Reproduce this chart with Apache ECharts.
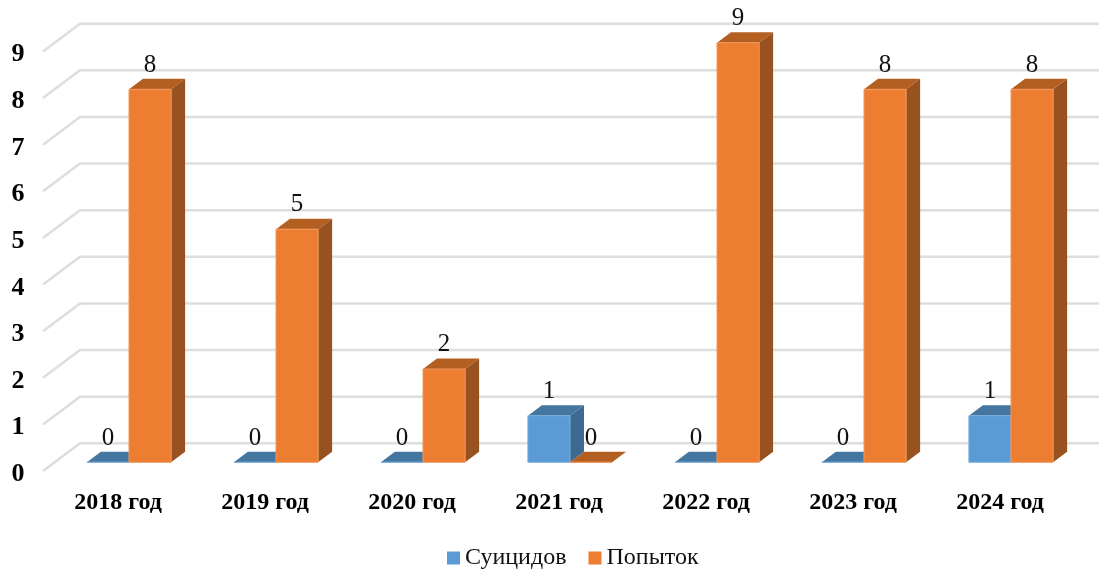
<!DOCTYPE html>
<html>
<head>
<meta charset="utf-8">
<title>Суициды и попытки</title>
<style>
  html, body { margin: 0; padding: 0; background: #fff; }
  #chart { width: 1099px; height: 571px; }
</style>
<script src="https://cdn.jsdelivr.net/npm/echarts@6/dist/echarts.min.js"></script>
</head>
<body>
<div id="chart"></div>
<script>
const categories = ["2018 год", "2019 год", "2020 год", "2021 год", "2022 год", "2023 год", "2024 год"];
const suicides = [0, 0, 0, 1, 0, 0, 1];
const attempts = [8, 5, 2, 0, 9, 8, 8];
const yTicks = [0, 1, 2, 3, 4, 5, 6, 7, 8, 9];

const FONT = "'Liberation Serif', 'Times New Roman', serif";
const DEPTH_X = 14;
const DEPTH_Y = 10.5;

const chart = echarts.init(document.getElementById("chart"));

// back wall lines with the little diagonal at the left
const renderWall = (params, api) => {
  const y = api.coord([0, api.value(1)])[1];
  const cs = params.coordSys;
  return {
    type: "polyline",
    silent: true,
    shape: {
      points: [
        [cs.x - 12.5, y + 8.7],
        [cs.x + 24.5, y - 19],
        [cs.x + cs.width + 15, y - 19],
      ],
    },
    style: { stroke: "#dedede", lineWidth: 2.5, fill: null },
  };
};

// fake 3d column, side: -1 sits left of the category centre, 1 sits right
const makeBar = (side, front, top, right, edge) => (params, api) => {
  const cat = api.value(0);
  const base = api.coord([cat, 0]);
  const head = api.coord([cat, api.value(1)]);
  const w = api.size([1, 0])[0] * 0.2865;
  const x0 = side < 0 ? base[0] - w : base[0];
  const x1 = x0 + w;
  const y0 = base[1];
  const y1 = head[1];
  const children = [
    {
      type: "polygon",
      shape: { points: [[x1, y1], [x1 + DEPTH_X, y1 - DEPTH_Y], [x1 + DEPTH_X, y0 - DEPTH_Y], [x1, y0]] },
      style: { fill: right },
    },
    {
      type: "polygon",
      shape: { points: [[x0, y1], [x0 + DEPTH_X, y1 - DEPTH_Y], [x1 + DEPTH_X, y1 - DEPTH_Y], [x1, y1]] },
      style: { fill: top },
    },
    {
      type: "rect",
      shape: { x: x0, y: y1, width: w, height: y0 - y1 },
      style: { fill: front, stroke: edge, lineWidth: 1 },
    },
    {
      type: "text",
      z2: 50,
      style: {
        text: String(api.value(1)),
        x: (x0 + x1) / 2,
        y: y1 - 24.3,
        align: "center",
        verticalAlign: "middle",
        fill: "#111",
        font: "25px " + FONT,
      },
    },
  ];
  return { type: "group", children };
};

const toPoints = (values) => values.map((v, i) => [i, v]);

chart.setOption({
  animation: false,
  backgroundColor: "#fff",
  grid: { left: 55.5, right: 14.5, top: 42.7, bottom: 108.7 },
  xAxis: {
    type: "category",
    data: categories,
    axisLine: { show: false },
    axisTick: { show: false },
    splitLine: { show: false },
    axisLabel: {
      color: "#000",
      fontFamily: FONT,
      fontWeight: "bold",
      fontSize: 24,
      margin: 28,
      padding: [0, 22, 0, 0],
      interval: 0,
    },
  },
  yAxis: {
    type: "value",
    min: 0,
    max: 9,
    interval: 1,
    axisLine: { show: false },
    axisTick: { show: false },
    splitLine: { show: false },
    axisLabel: {
      color: "#000",
      fontFamily: FONT,
      fontWeight: "bold",
      fontSize: 26,
      align: "center",
      verticalAlign: "top",
      lineHeight: 24,
      margin: 37.5,
    },
  },
  legend: {
    data: ["Суицидов", "Попыток"],
    left: 442,
    top: 541,
    icon: "rect",
    itemWidth: 13,
    itemHeight: 13,
    itemGap: 22,
    textStyle: { color: "#111", fontFamily: FONT, fontSize: 24 },
  },
  series: [
    {
      type: "custom",
      name: "wall",
      renderItem: renderWall,
      data: yTicks.map((v) => [0, v]),
      encode: { x: 0, y: 1 },
      silent: true,
      z: 1,
    },
    {
      type: "custom",
      name: "Суицидов",
      renderItem: makeBar(-1, "#5b9bd5", "#44769f", "#3d6a91", "#7fb0de"),
      data: toPoints(suicides),
      encode: { x: 0, y: 1 },
      itemStyle: { color: "#5b9bd5" },
      z: 2,
    },
    {
      type: "custom",
      name: "Попыток",
      renderItem: makeBar(1, "#ed7d31", "#b35f22", "#975220", "#f1985c"),
      data: toPoints(attempts),
      encode: { x: 0, y: 1 },
      itemStyle: { color: "#ed7d31" },
      z: 3,
    },
  ],
});
</script>
</body>
</html>
